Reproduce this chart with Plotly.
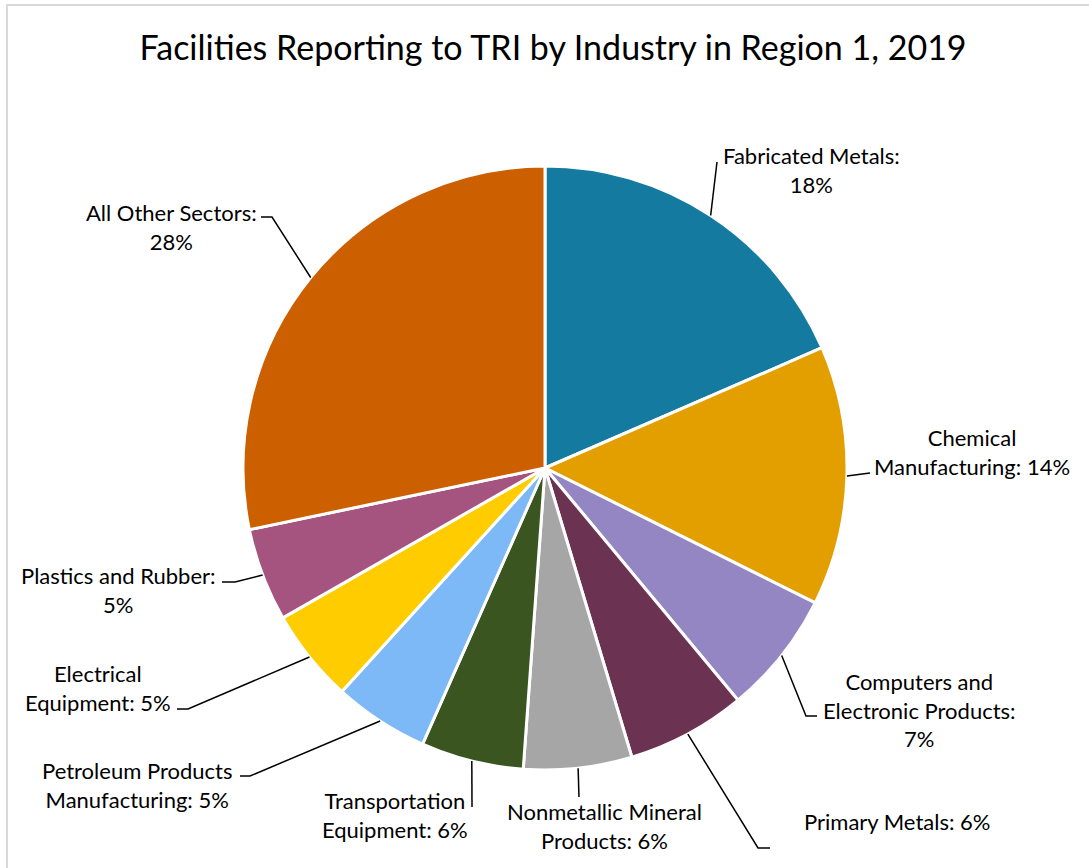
import numpy as np
import plotly.graph_objects as go

W, H = 1089, 868

# data (shares; label text keeps the rounded figures)
sectors = [
    "Fabricated Metals", "Chemical Manufacturing", "Computers and Electronic Products",
    "Primary Metals", "Nonmetallic Mineral Products", "Transportation Equipment",
    "Petroleum Products Manufacturing", "Electrical Equipment", "Plastics and Rubber",
    "All Other Sectors",
]
shares = [18.5, 13.9, 6.6, 6.4, 5.8, 5.5, 5.1, 5.0, 5.0, 28.3]
pct_labels = ["18%", "14%", "7%", "6%", "6%", "6%", "5%", "5%", "5%", "28%"]
label_text = [
    "Fabricated Metals:<br>18%",
    "Chemical<br>Manufacturing: 14%",
    "Computers and<br>Electronic Products:<br>7%",
    "Primary Metals: 6%",
    "Nonmetallic Mineral<br>Products: 6%",
    "Transportation<br>Equipment: 6%",
    "Petroleum Products<br>Manufacturing: 5%",
    "Electrical<br>Equipment: 5%",
    "Plastics and Rubber:<br>5%",
    "All Other Sectors:<br>28%",
]
colors = ["#157AA0", "#E39F00", "#9486C2", "#6B3351", "#A6A6A6",
          "#3A5520", "#7DB8F7", "#FFCC00", "#A5547F", "#CC5F00"]

# layout (pixels)
CX, CY, R = 545, 468, 302
label_pos = [(812, 170), (972, 452), (919, 710), (897, 821), (604, 826),
             (395, 815), (137, 785), (98, 688), (118, 590), (171, 227)]
leader_pts = [
    [(717, 162)],
    [(870, 473)],
    [(806, 716), (817, 716)],
    [(758, 848), (770, 848)],
    [(579, 797)],
    [(472, 807)],
    [(250, 776), (240, 776)],
    [(188, 709), (177, 709)],
    [(235, 582), (222, 582)],
    [(272, 217), (261, 217)],
]


def px(x):
    return x / W


def py(y):
    return 1 - y / H


fig = go.Figure(go.Pie(
    labels=sectors, values=shares, sort=False, direction="clockwise",
    rotation=0, textinfo="none", showlegend=False,
    marker=dict(colors=colors, line=dict(color="white", width=3)),
    domain=dict(x=[px(CX - R), px(CX + R)], y=[py(CY + R), py(CY - R)]),
))

# leader lines from the middle of each slice's edge
tot = sum(shares)
cum = np.cumsum([0] + shares)
shapes = []
for i in range(len(shares)):
    ang = np.deg2rad(360 * (cum[i] + shares[i] / 2) / tot)
    pts = [(CX + R * np.sin(ang), CY - R * np.cos(ang))] + leader_pts[i]
    path = "M " + " L ".join(f"{px(x):.5f},{py(y):.5f}" for x, y in pts)
    shapes.append(dict(type="path", path=path, xref="paper", yref="paper",
                       line=dict(color="black", width=1.5)))

# light chart-area frame
shapes.append(dict(type="rect", xref="paper", yref="paper",
                   x0=px(7), x1=1.02, y0=-0.02, y1=py(5),
                   line=dict(color="#D9D9D9", width=2)))

annotations = []
for txt, (x, y) in zip(label_text, label_pos):
    annotations.append(dict(
        text=txt, x=px(x), y=py(y), xref="paper", yref="paper",
        xanchor="center", yanchor="middle", align="center", showarrow=False,
        font=dict(family="Lato", size=22, color="#000"),
    ))

fig.update_layout(
    width=W, height=H,
    margin=dict(l=0, r=0, t=0, b=0),
    paper_bgcolor="white",
    title=dict(text="Facilities Reporting to TRI by Industry in Region 1, 2019",
               x=px(553), y=py(48), xanchor="center", yanchor="middle",
               font=dict(family="Lato", size=34, color="#000")),
    shapes=shapes,
    annotations=annotations,
)

# drop the page's default body margin so the figure sits at the window corner
fig.write_html("out.html", config={"displayModeBar": False},
               post_script="document.body.style.margin='0';")
